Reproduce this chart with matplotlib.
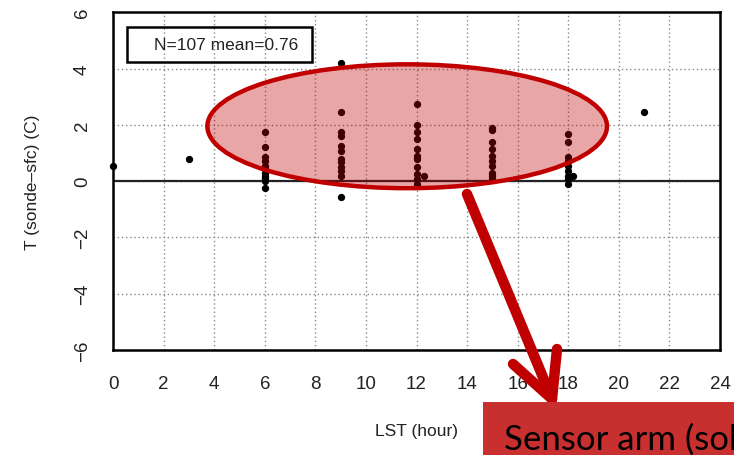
import numpy as np
import matplotlib
matplotlib.use("Agg")
import matplotlib.pyplot as plt
from matplotlib.patches import Ellipse, Rectangle
from matplotlib.lines import Line2D

# sonde minus surface temperature by launch hour (LST)
hours = [0, 3,
         6, 6, 6, 6, 6, 6, 6, 6, 6, 6, 6,
         9, 9, 9, 9, 9, 9, 9, 9, 9, 9, 9, 9,
         12, 12, 12, 12, 12, 12, 12, 12, 12, 12, 12, 12.3,
         15, 15, 15, 15, 15, 15, 15, 15, 15, 15,
         18, 18, 18, 18, 18, 18, 18, 18, 18, 18.2,
         21]
dT = [0.53, 0.78,
      1.74, 1.2, 0.85, 0.7, 0.53, 0.43, 0.3, 0.2, 0.1, 0.0, -0.25,
      4.2, 2.45, 1.74, 1.6, 1.25, 1.07, 0.78, 0.67, 0.5, 0.36, 0.18, -0.57,
      2.73, 2.0, 1.74, 1.5, 1.14, 0.78, 0.5, 0.25, 0.07, -0.1, 0.9, 0.18,
      1.9, 1.8, 1.4, 1.14, 0.9, 0.7, 0.53, 0.3, 0.07, 0.2,
      1.67, 1.38, 0.85, 0.7, 0.53, 0.36, 0.18, 0.07, -0.1, 0.2,
      2.45]
stats_label = "N=107 mean=0.76"
xticks = np.arange(0, 25, 2)
yticks = np.arange(-6, 7, 2)

plt.rcParams["font.family"] = ["Liberation Sans", "DejaVu Sans"]

fig = plt.figure(figsize=(7.34, 4.56), dpi=100)
ax = fig.add_axes([0.154, 0.230, 0.827, 0.741])

ax.scatter(hours, dT, s=18, color="black", zorder=3, clip_on=False)
ax.axhline(0, color="#222222", lw=1.6, zorder=2)

ax.set_xlim(0, 24)
ax.set_ylim(-6, 6)
ax.set_xticks(xticks)
ax.set_yticks(yticks)
ax.grid(True, color="#888888", linestyle=(0, (1, 2)), linewidth=1.0)
for s in ax.spines.values():
    s.set_linewidth(1.8)
ax.tick_params(length=0, labelsize=13.5, colors="#222222")
ax.tick_params(axis="x", pad=18)
ax.tick_params(axis="y", pad=16, labelrotation=90)
for lab in ax.get_yticklabels():
    lab.set_va("center")

ax.set_xlabel("LST (hour)", fontsize=12.5, labelpad=22, color="#222222")
ax.set_ylabel("T (sonde\u2013sfc) (C)", fontsize=12.5, labelpad=24, color="#222222")

# stats box
ax.add_patch(Rectangle((0.56, 4.23), 7.3, 1.24, fill=False, lw=1.8,
                       edgecolor="black", zorder=4))
ax.text(4.46, 4.85, stats_label, fontsize=12.5, ha="center", va="center",
        color="#222222", zorder=5)

# highlight ellipse
ax.add_patch(Ellipse((11.63, 1.95), 15.8, 4.4, facecolor=(0.75, 0, 0, 0.35),
                     edgecolor="#c00000", lw=3.2, zorder=6, clip_on=False))

# arrow and callout box, drawn in figure pixels
def px(x, y):
    return (x / 100.0, (456 - y) / 100.0)

red = "#c00000"
tr = fig.dpi_scale_trans
shaft = [px(467, 195), px(552, 400)]
barb1 = [px(513, 365), px(552, 400)]
barb2 = [px(557, 350), px(552, 400)]
for seg in (shaft, barb1, barb2):
    fig.add_artist(Line2D([seg[0][0], seg[1][0]], [seg[0][1], seg[1][1]],
                          transform=tr, color=red, lw=7.5,
                          solid_capstyle="round", zorder=10))

fig.add_artist(Rectangle(px(483, 456), 2.6, 0.53, transform=tr,
                         facecolor="#c83030", edgecolor="none", zorder=11))
fig.text(504 / 100.0, (456 - 450) / 100.0, "Sensor arm (sol", transform=tr,
         fontsize=25, family="Lato", color="black", va="baseline", zorder=12)

fig.savefig("out.png", dpi=100)
